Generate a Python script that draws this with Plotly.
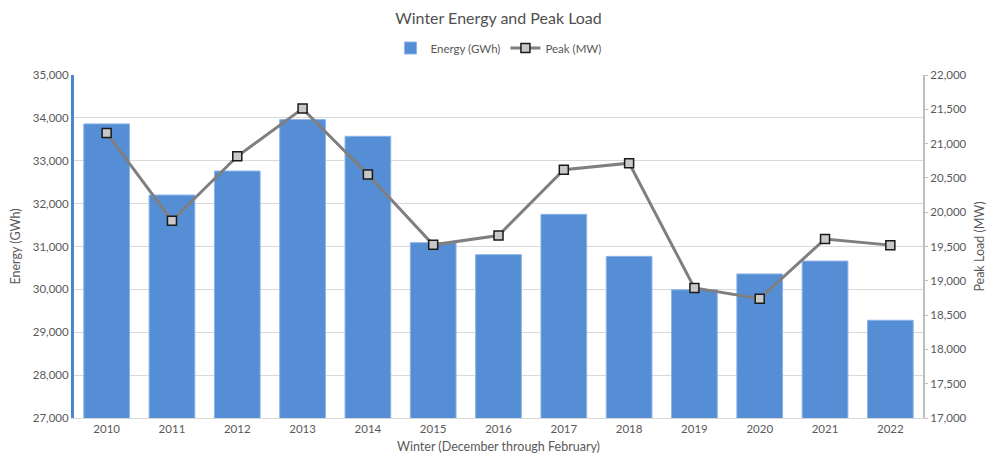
import plotly.graph_objects as go

years = ["2010", "2011", "2012", "2013", "2014", "2015", "2016",
         "2017", "2018", "2019", "2020", "2021", "2022"]
energy_gwh = [33860, 32200, 32760, 33960, 33570, 31090, 30810,
              31750, 30770, 29990, 30360, 30660, 29280]
peak_mw = [21155, 19875, 20815, 21510, 20550, 19525, 19660,
           20620, 20715, 18895, 18740, 19610, 19520]

font_family = "Lato, 'Open Sans', sans-serif"
txt = "#595959"

fig = go.Figure()
fig.add_trace(go.Bar(
    x=years, y=energy_gwh, name="Energy (GWh)",
    marker=dict(color="#558ed5", line=dict(color="#8cb4e6", width=1)),
    yaxis="y",
))
fig.add_trace(go.Scatter(
    x=years, y=peak_mw, name="Peak (MW)", mode="lines+markers",
    line=dict(color="#7f7f7f", width=3),
    marker=dict(symbol="square", size=9, color="#c8c8c8",
                line=dict(color="#1a1a1a", width=1.5)),
    yaxis="y2",
))

fig.update_layout(
    width=1000, height=472,
    margin=dict(l=66, r=85, t=67, b=62, autoexpand=False),
    paper_bgcolor="white", plot_bgcolor="white",
    font=dict(family=font_family, size=11.5, color=txt),
    title=dict(text="Winter Energy and Peak Load", x=0.5, xanchor="center",
               xref="paper", y=1 - 10 / 472, yref="container", yanchor="middle",
               font=dict(size=16, color="#505050")),
    legend=dict(orientation="h", x=0.5, xanchor="center",
                y=1 - 40 / 472, yref="container",
                yanchor="middle", font=dict(size=11.5, color=txt),
                itemwidth=30),
    bargap=0.3,
    showlegend=True,
    xaxis=dict(
        title=dict(text="Winter (December through February)",
                   font=dict(size=12.5, color=txt), standoff=8),
        range=[-0.5, len(years) - 0.5],
        showgrid=False, showline=True, linecolor="#d9d9d9", linewidth=1,
        ticks="", tickfont=dict(size=11.5, color=txt),
    ),
    yaxis=dict(
        title=dict(text="Energy (GWh)", font=dict(size=12.5, color=txt), standoff=10),
        range=[27000, 35000], dtick=1000, tickformat=",",
        showgrid=True, gridcolor="#d9d9d9", gridwidth=1,
        showline=True, linecolor="#4a86d0", linewidth=3,
        zeroline=False, ticks="", tickfont=dict(size=11.5, color=txt),
    ),
    yaxis2=dict(
        title=dict(text="Peak Load (MW)", font=dict(size=12.5, color=txt), standoff=10),
        range=[17000, 22000], dtick=500, tickformat=",",
        overlaying="y", side="right", showgrid=False,
        showline=True, linecolor="#bfbfbf", linewidth=2,
        ticks="outside", ticklen=3, tickcolor="#bfbfbf",
        zeroline=False, tickfont=dict(size=11.5, color=txt),
    ),
)

fig.write_html("out.html")
